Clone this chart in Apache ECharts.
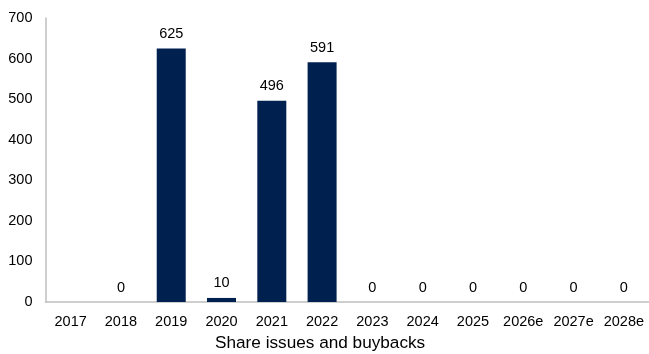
<!DOCTYPE html>
<html><head><meta charset="utf-8">
<script src="https://cdn.jsdelivr.net/npm/echarts@6/dist/echarts.min.js"></script>
<style>html,body{margin:0;padding:0;background:#fff}#c{width:649px;height:354px}</style>
</head><body><div id="c"></div>
<script>
const categories = ['2017','2018','2019','2020','2021','2022','2023','2024','2025','2026e','2027e','2028e'];
const values = [null,0,625,10,496,591,0,0,0,0,0,0];
const yTicks = {min:0,max:700,interval:100};
const axisTitle = 'Share issues and buybacks';

const chart = echarts.init(document.getElementById('c'));
chart.setOption({
  animation:false,
  title:{text:axisTitle,left:215,top:335,padding:0,
    textStyle:{fontFamily:'Liberation Sans',fontSize:17.2,fontWeight:'normal',color:'#000'}},
  grid:{left:45.5,top:18,width:608,height:284,containLabel:false},
  xAxis:{type:'category',data:categories,
    axisLine:{lineStyle:{color:'#bfbfbf',width:1.5}},axisTick:{show:false},
    axisLabel:{fontFamily:'Liberation Sans',fontSize:14.5,color:'#000',margin:12,interval:0}},
  yAxis:{type:'value',min:yTicks.min,max:yTicks.max,interval:yTicks.interval,
    axisLine:{show:true,lineStyle:{color:'#bfbfbf',width:1.5}},axisTick:{show:false},
    splitLine:{show:false},
    axisLabel:{fontFamily:'Liberation Sans',fontSize:14.5,color:'#000',margin:13}},
  series:[{type:'bar',data:values,barWidth:29,itemStyle:{color:'#00214f'},
    label:{show:true,position:'top',distance:7,fontFamily:'Liberation Sans',fontSize:14.5,color:'#000'}}]
});
</script></body></html>
